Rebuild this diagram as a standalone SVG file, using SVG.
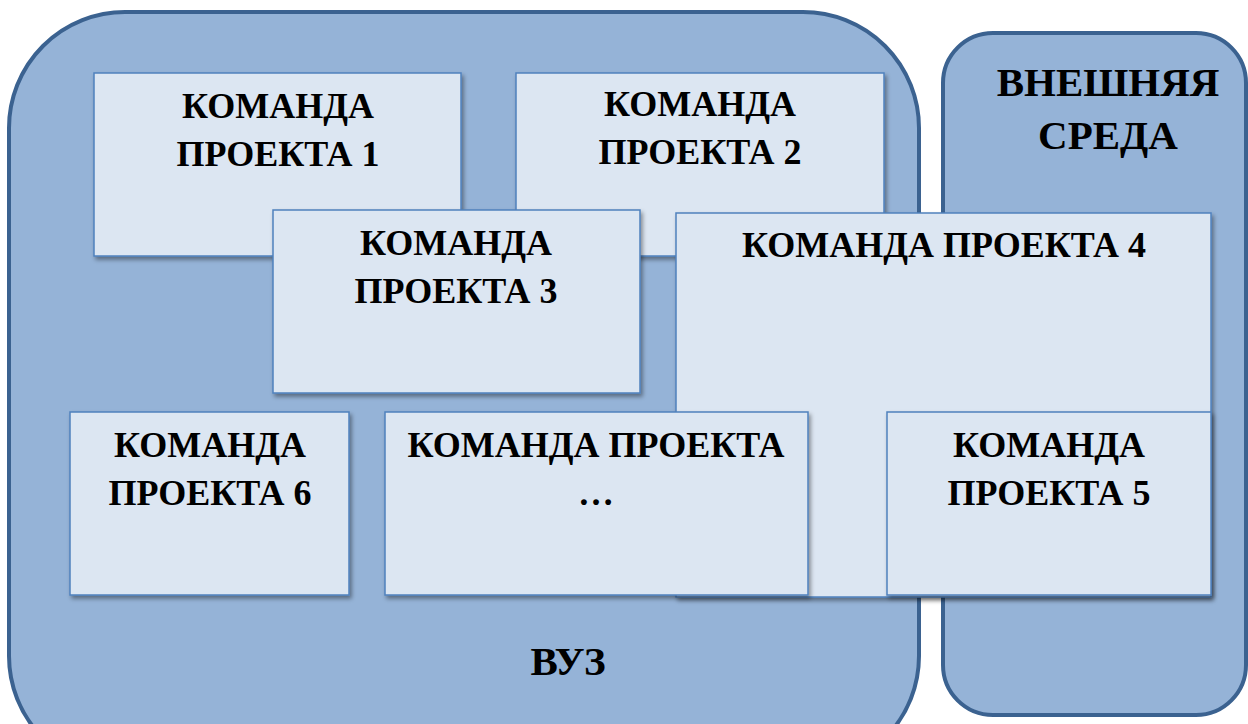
<svg xmlns="http://www.w3.org/2000/svg" width="1248" height="724" viewBox="0 0 1248 724">
<defs>
<style>
.area{fill:#95b3d7;stroke:#3b6290;stroke-width:4}
.box{fill:#dce6f2;stroke:#4f81bd;stroke-width:1.5}
.t{font-family:"Liberation Serif","Times New Roman",serif;font-weight:bold;font-size:36px;fill:#000;text-anchor:middle}
.big{font-size:41px}
</style>
<filter id="sh" x="-5%" y="-5%" width="115%" height="120%">
<feDropShadow dx="2" dy="3" stdDeviation="2" flood-color="#000" flood-opacity="0.4"/>
</filter>
</defs>
<rect width="1248" height="724" fill="#fff"/>
<g id="vuz">
<rect class="area" x="9" y="12" width="910" height="760" rx="116"/>
<text class="t big" x="568" y="675">ВУЗ</text>
</g>
<g id="ext">
<rect class="area" x="943" y="33" width="303" height="682" rx="50"/>
<text class="t big" x="1108" y="96">ВНЕШНЯЯ</text>
<text class="t big" x="1108" y="149">СРЕДА</text>
</g>
<g id="team1">
<rect class="box" filter="url(#sh)" x="94" y="73" width="367" height="183"/>
<text class="t" x="278" y="118">КОМАНДА</text>
<text class="t" x="278" y="166">ПРОЕКТА 1</text>
</g>
<g id="team2">
<rect class="box" filter="url(#sh)" x="516" y="73" width="368" height="183"/>
<text class="t" x="700" y="116">КОМАНДА</text>
<text class="t" x="700" y="164">ПРОЕКТА 2</text>
</g>
<g id="team3">
<rect class="box" filter="url(#sh)" x="273" y="210" width="367" height="183"/>
<text class="t" x="456" y="255">КОМАНДА</text>
<text class="t" x="456" y="303">ПРОЕКТА 3</text>
</g>
<g id="team4">
<rect class="box" filter="url(#sh)" x="676" y="213" width="535" height="384"/>
<text class="t" x="944" y="257">КОМАНДА ПРОЕКТА 4</text>
</g>
<g id="team6">
<rect class="box" filter="url(#sh)" x="70" y="412" width="279" height="183"/>
<text class="t" x="210" y="457">КОМАНДА</text>
<text class="t" x="210" y="505">ПРОЕКТА 6</text>
</g>
<g id="teamN">
<rect class="box" filter="url(#sh)" x="385" y="412" width="423" height="183"/>
<text class="t" x="596" y="457">КОМАНДА ПРОЕКТА</text>
<text class="t" x="596" y="505">…</text>
</g>
<g id="team5">
<rect class="box" filter="url(#sh)" x="887" y="412" width="324" height="183"/>
<text class="t" x="1049" y="457">КОМАНДА</text>
<text class="t" x="1049" y="505">ПРОЕКТА 5</text>
</g>
<g id="connectors"/>
</svg>
